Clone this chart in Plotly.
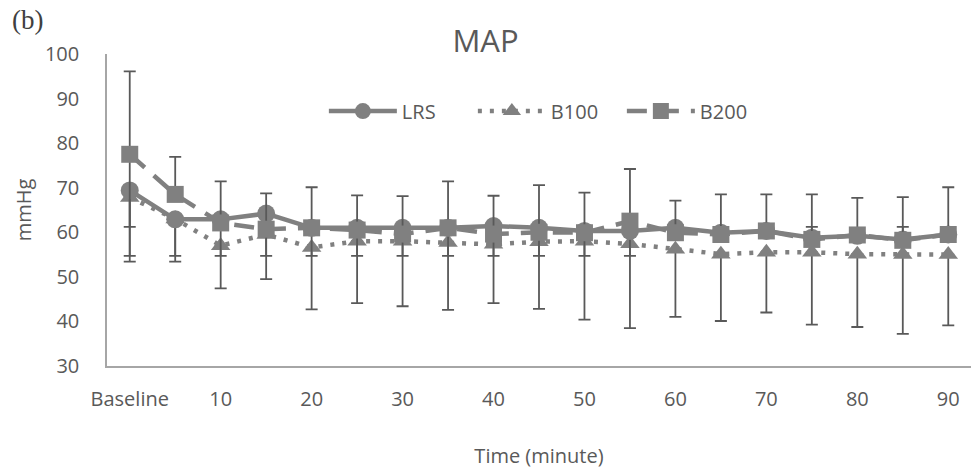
import plotly.graph_objects as go

categories = ["Baseline", "5", "10", "15", "20", "25", "30", "35", "40", "45",
              "50", "55", "60", "65", "70", "75", "80", "85", "90"]
tick_labels = ["Baseline", "10", "20", "30", "40", "50", "60", "70", "80", "90"]

lrs = [69.4, 62.9, 62.9, 64.2, 61.0, 61.0, 61.0, 61.0, 61.4, 61.0,
       60.3, 60.3, 61.0, 59.9, 60.3, 58.8, 59.2, 58.4, 59.5]
b100 = [67.8, 63.0, 57.0, 59.5, 56.6, 58.0, 58.0, 57.7, 57.3, 57.9,
        58.0, 57.4, 56.2, 55.1, 55.5, 55.5, 55.1, 55.0, 55.0]
b200 = [77.5, 68.5, 62.1, 60.7, 61.0, 60.5, 59.6, 61.0, 59.6, 60.0,
        59.9, 62.5, 59.9, 59.5, 60.3, 58.4, 59.4, 58.2, 59.5]

# error bar extents (mmHg)
lrs_err_plus = [0, 0, 0, 0, 0, 0, 0, 0, 0, 0,
                0, 0, 0, 0, 0, 2.4, 0, 2.8, 0]
lrs_err_minus = [8.2, 8.2, 8.2, 9.5, 6.3, 6.3, 6.3, 6.3, 6.7, 6.3,
                 5.6, 5.6, 0, 0, 0, 0, 0, 0, 0]
b100_err_plus = [0] * 19
b100_err_minus = [14.4, 9.6, 9.6, 10.0, 13.9, 13.9, 14.6, 15.1, 13.2, 15.1,
                  17.6, 18.9, 15.2, 15.0, 13.5, 16.2, 16.35, 17.8, 15.9]
b200_err_plus = [18.6, 8.4, 9.3, 8.05, 9.1, 7.8, 8.5, 10.4, 8.6, 10.6,
                 9.0, 11.7, 7.2, 9.0, 8.2, 10.1, 8.3, 9.7, 10.6]
b200_err_minus = [22.8, 0, 0, 0, 0, 0, 0, 0, 0, 0,
                  0, 0, 0, 0, 0, 0, 0, 0, 0]

GREY = "#808080"
ERR = "#595959"
TXT = "#595959"
FONT = "Open Sans"

def err(plus, minus):
    return dict(type="data", symmetric=False, array=plus, arrayminus=minus,
                color=ERR, thickness=1.8, width=6)

fig = go.Figure()
fig.add_trace(go.Scatter(
    x=categories, y=b100, name="B100", mode="lines+markers",
    line=dict(color=GREY, width=4.5, dash="4px,8px"),
    marker=dict(symbol="triangle-up", size=17, color=GREY),
    error_y=err(b100_err_plus, b100_err_minus), legendrank=2))
fig.add_trace(go.Scatter(
    x=categories, y=lrs, name="LRS", mode="lines+markers",
    line=dict(color=GREY, width=4.5),
    marker=dict(symbol="circle", size=18, color=GREY),
    error_y=err(lrs_err_plus, lrs_err_minus), legendrank=1))
fig.add_trace(go.Scatter(
    x=categories, y=b200, name="B200", mode="lines+markers",
    line=dict(color=GREY, width=4.5, dash="20px,12px"),
    marker=dict(symbol="square", size=17, color=GREY),
    error_y=err(b200_err_plus, b200_err_minus), legendrank=3))

fig.update_layout(
    width=971, height=471,
    margin=dict(l=107, r=0, t=54, b=105),
    paper_bgcolor="white", plot_bgcolor="white",
    font=dict(family=FONT, size=20, color=TXT),
    title=dict(text="MAP", x=0.5, xanchor="center", y=0.912, yanchor="middle",
               font=dict(family=FONT, size=31, color=TXT)),
    legend=dict(orientation="h", x=0.251, xanchor="left", y=0.817, yanchor="middle",
                font=dict(family=FONT, size=20, color=TXT),
                itemwidth=68,
                entrywidth=66, entrywidthmode="pixels",
                bgcolor="rgba(0,0,0,0)", traceorder="normal"),
    showlegend=True,
    annotations=[dict(text="(b)", xref="paper", yref="paper", x=-0.112, y=1.11,
                      xanchor="left", yanchor="middle", showarrow=False,
                      font=dict(family="Liberation Serif", size=27, color="#404040"))],
)
fig.update_xaxes(
    type="category", categoryorder="array", categoryarray=categories,
    range=[-0.5, 18.5], tickmode="array", tickvals=tick_labels, ticktext=tick_labels,
    showline=True, linecolor="#a6a6a6", linewidth=1.5, showgrid=False, zeroline=False,
    ticks="", ticklabelstandoff=14, tickfont=dict(size=20, color=TXT),
    title=dict(text="Time (minute)", standoff=38, font=dict(size=20, color=TXT)),
    automargin=False,
)
fig.update_yaxes(
    range=[30, 100], dtick=10, tick0=30,
    showline=True, linecolor="#a6a6a6", linewidth=1.5, showgrid=False, zeroline=False,
    ticks="", ticklabelstandoff=22, tickfont=dict(size=20, color=TXT),
    title=dict(text="mmHg", standoff=8, font=dict(size=20, color=TXT)),
    automargin=False,
)

fig.write_html("out.html")
